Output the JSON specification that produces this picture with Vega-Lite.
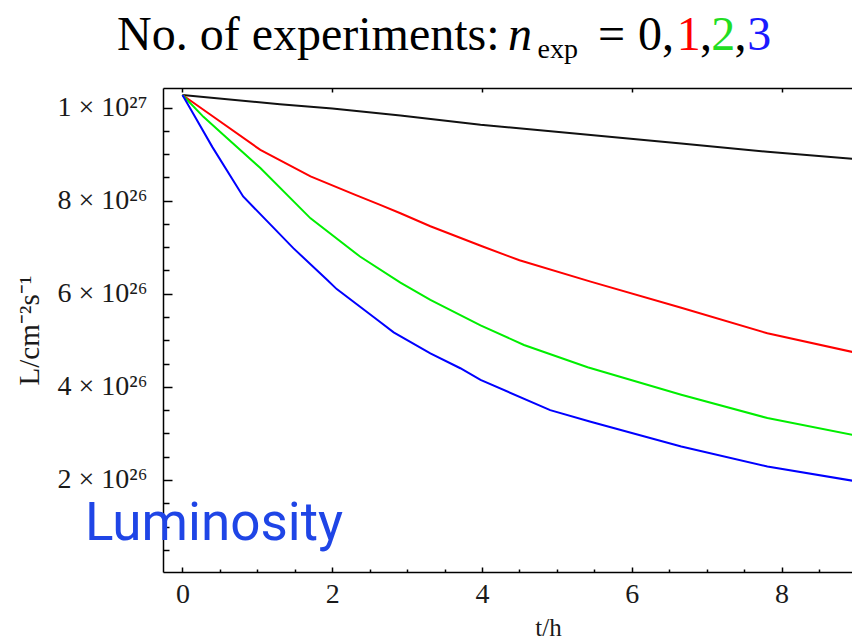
{
  "$schema": "https://vega.github.io/schema/vega-lite/v6.json",
  "width": 689,
  "height": 484,
  "autosize": {"type": "none"},
  "padding": {"left": 163, "top": 88, "right": 0, "bottom": 68},
  "background": "white",
  "config": {"view": {"stroke": null}},
  "resolve": {"axis": {"x": "independent", "y": "independent"}},
  "layer": [
    {
      "data": {"values": [
        {"n": 0, "t": 0, "L": 1.027e27}, {"n": 0, "t": 1.3, "L": 1.007e27}, {"n": 0, "t": 2, "L": 9.98e26}, {"n": 0, "t": 2.91, "L": 9.83e26}, {"n": 0, "t": 3.98, "L": 9.63e26}, {"n": 0, "t": 5.31, "L": 9.43e26}, {"n": 0, "t": 6.66, "L": 9.23e26}, {"n": 0, "t": 7.81, "L": 9.05e26}, {"n": 0, "t": 9, "L": 8.89e26},
        {"n": 1, "t": 0, "L": 1.027e27}, {"n": 1, "t": 0.37, "L": 9.85e26}, {"n": 1, "t": 1.04, "L": 9.09e26}, {"n": 1, "t": 1.71, "L": 8.52e26}, {"n": 1, "t": 2.3, "L": 8.13e26}, {"n": 1, "t": 2.64, "L": 7.91e26}, {"n": 1, "t": 2.91, "L": 7.73e26}, {"n": 1, "t": 3.31, "L": 7.45e26}, {"n": 1, "t": 4, "L": 7.02e26}, {"n": 1, "t": 4.5, "L": 6.72e26}, {"n": 1, "t": 5.45, "L": 6.26e26}, {"n": 1, "t": 6.66, "L": 5.70e26}, {"n": 1, "t": 7.81, "L": 5.15e26}, {"n": 1, "t": 9, "L": 4.73e26},
        {"n": 2, "t": 0, "L": 1.027e27}, {"n": 2, "t": 0.28, "L": 9.80e26}, {"n": 2, "t": 0.59, "L": 9.35e26}, {"n": 2, "t": 1.04, "L": 8.70e26}, {"n": 2, "t": 1.71, "L": 7.62e26}, {"n": 2, "t": 2.37, "L": 6.80e26}, {"n": 2, "t": 2.91, "L": 6.24e26}, {"n": 2, "t": 3.31, "L": 5.87e26}, {"n": 2, "t": 3.98, "L": 5.32e26}, {"n": 2, "t": 4.56, "L": 4.90e26}, {"n": 2, "t": 5.41, "L": 4.42e26}, {"n": 2, "t": 6.66, "L": 3.83e26}, {"n": 2, "t": 7.81, "L": 3.33e26}, {"n": 2, "t": 9, "L": 2.95e26},
        {"n": 3, "t": 0, "L": 1.027e27}, {"n": 3, "t": 0.15, "L": 9.85e26}, {"n": 3, "t": 0.4, "L": 9.15e26}, {"n": 3, "t": 0.81, "L": 8.09e26}, {"n": 3, "t": 1.48, "L": 6.98e26}, {"n": 3, "t": 1.93, "L": 6.30e26}, {"n": 3, "t": 2.06, "L": 6.10e26}, {"n": 3, "t": 2.6, "L": 5.44e26}, {"n": 3, "t": 2.82, "L": 5.17e26}, {"n": 3, "t": 3.31, "L": 4.72e26}, {"n": 3, "t": 3.71, "L": 4.40e26}, {"n": 3, "t": 3.98, "L": 4.15e26}, {"n": 3, "t": 4.91, "L": 3.50e26}, {"n": 3, "t": 5.45, "L": 3.25e26}, {"n": 3, "t": 6.66, "L": 2.72e26}, {"n": 3, "t": 7.81, "L": 2.29e26}, {"n": 3, "t": 9, "L": 1.97e26}
      ]},
      "mark": {"type": "line", "strokeWidth": 2, "clip": true},
      "encoding": {
        "x": {"field": "t", "type": "quantitative",
          "scale": {"domain": [-0.26, 8.94], "nice": false, "zero": false},
          "axis": {"orient": "bottom", "values": [0, 2, 4, 6, 8], "grid": false,
            "tickSize": -5, "tickWidth": 1.5, "tickColor": "#000",
            "domain": true, "domainColor": "#000", "domainWidth": 1.5,
            "labelFont": "Liberation Serif", "labelFontSize": 28, "labelColor": "#1a1a1a", "labelPadding": 13,
            "title": "t/h", "titleFont": "Liberation Serif", "titleFontSize": 25, "titleFontWeight": "normal", "titleColor": "#1a1a1a",
            "titleX": 385, "titleY": 63, "titleBaseline": "alphabetic"}},
        "y": {"field": "L", "type": "quantitative",
          "scale": {"domain": [2.3e24, 1.042e27], "nice": false, "zero": false},
          "axis": {"orient": "left", "values": [2e26, 4e26, 6e26, 8e26, 1e27], "grid": false,
            "tickSize": -9, "tickWidth": 1.5, "tickColor": "#000",
            "domain": true, "domainColor": "#000", "domainWidth": 1.5,
            "labelExpr": "datum.value >= 9.9e26 ? '1 × 10²⁷' : format(datum.value / 1e26, 'd') + ' × 10²⁶'",
            "labelFont": "Liberation Serif", "labelFontSize": 28, "labelColor": "#1a1a1a", "labelPadding": 25,
            "title": "L/cm⁻²s⁻¹", "titleFont": "Liberation Serif", "titleFontSize": 29, "titleFontWeight": "normal", "titleColor": "#1a1a1a",
            "titlePadding": 13}},
        "color": {"field": "n", "type": "nominal",
          "scale": {"domain": [0, 1, 2, 3], "range": ["#111111", "#ff0000", "#00ee00", "#0000ff"]},
          "legend": null}
      }
    },
    {
      "data": {"values": [{}]},
      "mark": {"type": "text", "text": "Luminosity", "font": "Roboto", "fontSize": 53, "color": "#1f45e6", "align": "left", "baseline": "alphabetic"},
      "encoding": {
        "x": {"datum": -1.302, "type": "quantitative",
          "axis": {"orient": "bottom", "values": [0.5, 1, 1.5, 2.5, 3, 3.5, 4.5, 5, 5.5, 6.5, 7, 7.5, 8.5], "grid": false,
            "tickSize": -3, "tickWidth": 1.5, "tickColor": "#000", "domain": false, "labels": false, "title": null}},
        "y": {"datum": 7.1e25, "type": "quantitative",
          "axis": {"orient": "left", "values": [5e25, 1e26, 1.5e26, 2.5e26, 3e26, 3.5e26, 4.5e26, 5e26, 5.5e26, 6.5e26, 7e26, 7.5e26, 8.5e26, 9e26, 9.5e26], "grid": false,
            "tickSize": -6, "tickWidth": 1.5, "tickColor": "#000", "domain": false, "labels": false, "title": null}}
      }
    },
    {
      "data": {"values": [{}]},
      "mark": {"type": "text", "text": "No. of experiments:", "font": "Liberation Serif", "fontSize": 48, "color": "#000", "align": "left", "baseline": "alphabetic"},
      "encoding": {
        "x": {"datum": -0.874, "type": "quantitative",
          "axis": {"orient": "top", "values": [0, 2, 4, 6, 8], "grid": false,
            "tickSize": -4, "tickWidth": 1.5, "tickColor": "#000", "domain": true, "domainColor": "#000", "domainWidth": 1.5, "labels": false, "title": null}},
        "y": {"datum": 1.1236e27, "type": "quantitative", "axis": null}
      }
    },
    {
      "data": {"values": [{}]},
      "mark": {"type": "text", "text": "n", "font": "Liberation Serif", "fontSize": 48, "fontStyle": "italic", "color": "#000", "align": "left", "baseline": "alphabetic"},
      "encoding": {
        "x": {"datum": 4.347, "type": "quantitative", "axis": null},
        "y": {"datum": 1.1236e27, "type": "quantitative", "axis": null}
      }
    },
    {
      "data": {"values": [{}]},
      "mark": {"type": "text", "text": "exp", "font": "Liberation Serif", "fontSize": 28, "color": "#000", "align": "left", "baseline": "alphabetic"},
      "encoding": {
        "x": {"datum": 4.74, "type": "quantitative", "axis": null},
        "y": {"datum": 1.1064e27, "type": "quantitative", "axis": null}
      }
    },
    {
      "data": {"values": [{}]},
      "mark": {"type": "text", "text": "=", "font": "Liberation Serif", "fontSize": 48, "color": "#000", "align": "left", "baseline": "alphabetic"},
      "encoding": {
        "x": {"datum": 5.548, "type": "quantitative", "axis": null},
        "y": {"datum": 1.1236e27, "type": "quantitative", "axis": null}
      }
    },
    {
      "data": {"values": [{}]},
      "mark": {"type": "text", "text": "0,", "font": "Liberation Serif", "fontSize": 48, "color": "#000", "align": "left", "baseline": "alphabetic"},
      "encoding": {
        "x": {"datum": 6.082, "type": "quantitative", "axis": null},
        "y": {"datum": 1.1236e27, "type": "quantitative", "axis": null}
      }
    },
    {
      "data": {"values": [{}]},
      "mark": {"type": "text", "text": "1", "font": "Liberation Serif", "fontSize": 48, "color": "#ff0000", "align": "left", "baseline": "alphabetic"},
      "encoding": {
        "x": {"datum": 6.6, "type": "quantitative", "axis": null},
        "y": {"datum": 1.1236e27, "type": "quantitative", "axis": null}
      }
    },
    {
      "data": {"values": [{}]},
      "mark": {"type": "text", "text": ",", "font": "Liberation Serif", "fontSize": 48, "color": "#000", "align": "left", "baseline": "alphabetic"},
      "encoding": {
        "x": {"datum": 6.91, "type": "quantitative", "axis": null},
        "y": {"datum": 1.1236e27, "type": "quantitative", "axis": null}
      }
    },
    {
      "data": {"values": [{}]},
      "mark": {"type": "text", "text": "2", "font": "Liberation Serif", "fontSize": 48, "color": "#22dd22", "align": "left", "baseline": "alphabetic"},
      "encoding": {
        "x": {"datum": 7.06, "type": "quantitative", "axis": null},
        "y": {"datum": 1.1236e27, "type": "quantitative", "axis": null}
      }
    },
    {
      "data": {"values": [{}]},
      "mark": {"type": "text", "text": ",", "font": "Liberation Serif", "fontSize": 48, "color": "#000", "align": "left", "baseline": "alphabetic"},
      "encoding": {
        "x": {"datum": 7.37, "type": "quantitative", "axis": null},
        "y": {"datum": 1.1236e27, "type": "quantitative", "axis": null}
      }
    },
    {
      "data": {"values": [{}]},
      "mark": {"type": "text", "text": "3", "font": "Liberation Serif", "fontSize": 48, "color": "#1a1aff", "align": "left", "baseline": "alphabetic"},
      "encoding": {
        "x": {"datum": 7.54, "type": "quantitative", "axis": null},
        "y": {"datum": 1.1236e27, "type": "quantitative", "axis": null}
      }
    }
  ]
}
